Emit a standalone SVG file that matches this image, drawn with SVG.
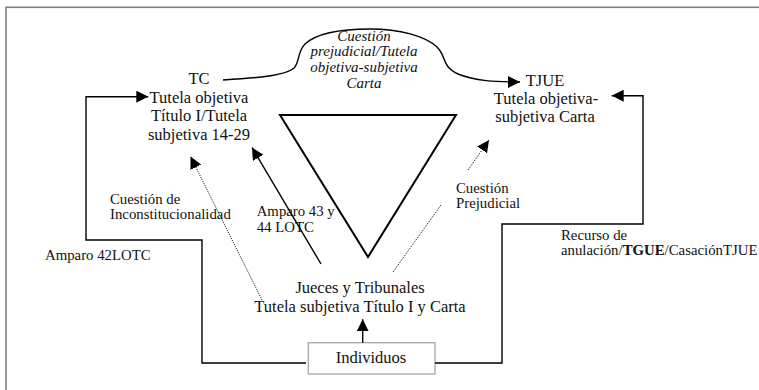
<svg xmlns="http://www.w3.org/2000/svg" width="759" height="390" viewBox="0 0 759 390">
<style>
  text { font-family: "Liberation Serif", "DejaVu Serif", serif; fill: #111; }
  .main { font-size: 16.5px; text-anchor: middle; }
  .lbl { font-size: 14.8px; }
  .it { font-size: 15px; font-style: italic; text-anchor: middle; }
  .conn { fill: none; stroke: #000; stroke-width: 1.4; }
  .dot { fill: none; stroke: #000; stroke-width: 1; stroke-dasharray: 1 1.2; }
</style>
<defs>
  <marker id="ah" viewBox="0 0 12 12" refX="12" refY="6" markerWidth="12" markerHeight="12" markerUnits="userSpaceOnUse" orient="auto">
    <path d="M0,0 L12,6 L0,12 z" fill="#000"/>
  </marker>
</defs>
<rect x="0" y="0" width="759" height="390" fill="#fff"/>
<rect x="6" y="7.3" width="800" height="420" fill="none" stroke="#808080" stroke-width="1.6"/>

<g id="triangle">
  <polygon points="280,115 456,115 368,257" fill="none" stroke="#000" stroke-width="2"/>
</g>

<g id="tc">
  <text class="main" x="199" y="84">TC</text>
  <text class="main" x="199" y="102.5">Tutela objetiva</text>
  <text class="main" x="199" y="121">Título I/Tutela</text>
  <text class="main" x="199" y="139.5">subjetiva 14-29</text>
</g>

<g id="tjue">
  <text class="main" x="545" y="86">TJUE</text>
  <text class="main" x="546" y="104">Tutela objetiva-</text>
  <text class="main" x="545" y="122">subjetiva Carta</text>
</g>

<g id="jueces">
  <text class="main" x="360" y="293">Jueces y Tribunales</text>
  <text class="main" x="360" y="311.5">Tutela subjetiva Título I y Carta</text>
</g>

<g id="individuos">
  <rect x="308.3" y="342.7" width="126.7" height="31.3" fill="#fff" stroke="#a6a6a6" stroke-width="1.3"/>
  <text class="main" x="371" y="363">Individuos</text>
</g>

<g id="connectors">
  <path class="conn" d="M223,80 C255,78 285,76 294,68 C300,62 297,52 305,44 C318,32 345,29 370,29 C400,29 425,36 437,47 C447,57 441,66 458,74 C475,81 495,82 520,82" marker-end="url(#ah)"/>
  <text class="it" x="364" y="40.5">Cuestión</text>
  <text class="it" x="364" y="56">prejudicial/Tutela</text>
  <text class="it" x="364" y="72">objetiva-subjetiva</text>
  <text class="it" x="364" y="88">Carta</text>

  <path class="conn" d="M306,363 H202 V240 H86 V96.7 H148.3" marker-end="url(#ah)"/>
  <text class="lbl" x="45" y="260">Amparo 42LOTC</text>

  <path class="conn" d="M435,363 H502 V224 H643 V95.7 H611.7" marker-end="url(#ah)"/>
  <text class="lbl" x="561" y="239.5">Recurso de</text>
  <text class="lbl" x="561" y="255">anulación/<tspan font-weight="bold">TGUE</tspan>/CasaciónTJUE</text>

  <path class="conn" d="M362.7,342.7 V319.3" marker-end="url(#ah)"/>

  <text class="lbl" x="256.7" y="216">Amparo 43 y</text>
  <text class="lbl" x="256.7" y="232">44 LOTC</text>
  <path class="conn" d="M321,264 L252,147.5" marker-end="url(#ah)"/>

  <text class="lbl" x="110" y="203.5">Cuestión de</text>
  <text class="lbl" x="110" y="218.5">Inconstitucionalidad</text>
  <path class="dot" d="M262,300 L190.5,156.5" marker-end="url(#ah)"/>

  <text class="lbl" x="456" y="193">Cuestión</text>
  <text class="lbl" x="456" y="208">Prejudicial</text>
  <path class="dot" d="M393,272 L441,205"/>
  <path class="dot" d="M468,170 L489,140" marker-end="url(#ah)"/>
</g>
</svg>
